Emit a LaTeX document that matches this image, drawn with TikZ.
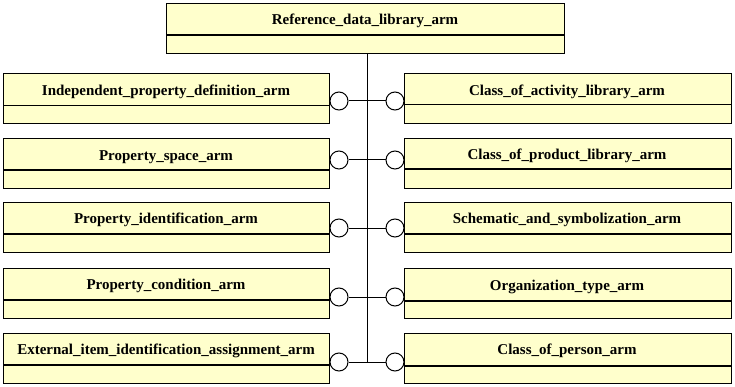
\documentclass[tikz,border=0pt]{standalone}
\usepackage{fontspec}
\setmainfont{Liberation Serif}
\definecolor{boxfill}{RGB}{255,255,204}
\begin{document}
\begin{tikzpicture}[x=1pt,y=-1pt,
  every path/.style={line width=1pt},
  armbox/.style={draw, fill=boxfill, line width=1pt, inner sep=0pt,
    anchor=north west, minimum height=50pt},
  lbl/.style={inner sep=0pt, font=\bfseries\fontsize{15}{17}\selectfont},
  thinrule/.style={line width=1pt},
  thickrule/.style={line width=2pt},
  socket/.style={circle, draw, fill=white, line width=1pt, inner sep=0pt, minimum size=18pt}]
\useasboundingbox (0,0) rectangle (735,387);

% top schema box
\node[armbox, minimum width=398pt] (T) at (166,3) {};
\draw[thickrule] (166,35) -- (564,35);
\node[lbl] (Tt) at (365,20.5) {Reference\_data\_library\_arm};

% left column
\node[armbox, minimum width=326pt] (L1) at (3,73) {};
\draw[thinrule] (3,106) -- (329,106);
\node[lbl] (L1t) at (166,92) {Independent\_property\_definition\_arm};

\node[armbox, minimum width=326pt] (L2) at (3,138) {};
\draw[thickrule] (3,170) -- (329,170);
\node[lbl] (L2t) at (166,157) {Property\_space\_arm};

\node[armbox, minimum width=326pt] (L3) at (3,202) {};
\draw[thickrule] (3,234) -- (329,234);
\node[lbl] (L3t) at (166,220) {Property\_identification\_arm};

\node[armbox, minimum width=326pt] (L4) at (3,268) {};
\draw[thickrule] (3,300) -- (329,300);
\node[lbl] (L4t) at (166,286) {Property\_condition\_arm};

\node[armbox, minimum width=326pt] (L5) at (3,333) {};
\draw[thickrule] (3,365) -- (329,365);
\node[lbl] (L5t) at (166,351) {External\_item\_identification\_assignment\_arm};

% right column
\node[armbox, minimum width=327pt] (R1) at (404,73) {};
\draw[thinrule] (404,105) -- (731,105);
\node[lbl] (R1t) at (567,92) {Class\_of\_activity\_library\_arm};

\node[armbox, minimum width=327pt] (R2) at (404,138) {};
\draw[thickrule] (404,169) -- (731,169);
\node[lbl] (R2t) at (567,156) {Class\_of\_product\_library\_arm};

\node[armbox, minimum width=327pt] (R3) at (404,202) {};
\draw[thickrule] (404,234) -- (731,234);
\node[lbl] (R3t) at (567,220) {Schematic\_and\_symbolization\_arm};

\node[armbox, minimum width=327pt] (R4) at (404,268) {};
\draw[thickrule] (404,301) -- (731,301);
\node[lbl] (R4t) at (567,287) {Organization\_type\_arm};

\node[armbox, minimum width=327pt] (R5) at (404,333) {};
\draw[thickrule] (404,366) -- (731,366);
\node[lbl] (R5t) at (567,351) {Class\_of\_person\_arm};

% junction points on the spine
\coordinate (S1) at (367,101);
\coordinate (S2) at (367,160);
\coordinate (S3) at (367,228);
\coordinate (S4) at (367,297);
\coordinate (S5) at (367,362);

% interface sockets
\node[socket] (L1c) at (339,101) {};
\node[socket] (L2c) at (339,160) {};
\node[socket] (L3c) at (339,228) {};
\node[socket] (L4c) at (339,297) {};
\node[socket] (L5c) at (339,362) {};
\node[socket] (R1c) at (395,101) {};
\node[socket] (R2c) at (395,160) {};
\node[socket] (R3c) at (395,228) {};
\node[socket] (R4c) at (395,297) {};
\node[socket] (R5c) at (395,362) {};

% spine and branches
\draw (T.south -| S5) -- (S5);
\foreach \i in {1,...,5} {
  \draw (L\i c) -- (S\i);
  \draw (R\i c) -- (S\i);
}
\end{tikzpicture}
\end{document}
